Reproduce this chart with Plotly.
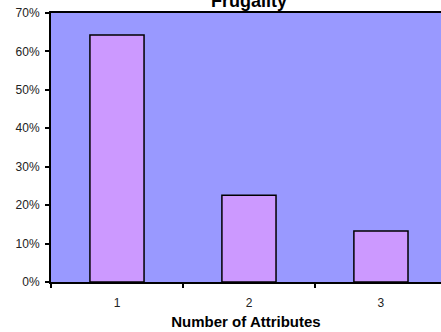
import plotly.graph_objects as go

# Share of items by number of attributes
categories = ["1", "2", "3"]
shares = [0.643, 0.226, 0.133]
y_ticks = [0, 0.1, 0.2, 0.3, 0.4, 0.5, 0.6, 0.7]
y_tick_text = ["0%", "10%", "20%", "30%", "40%", "50%", "60%", "70%"]

fig = go.Figure(
    go.Bar(
        x=categories,
        y=shares,
        width=0.41,
        marker=dict(color="#CC99FF", line=dict(color="black", width=1.5)),
    )
)

font = "Liberation Sans, Arial, sans-serif"

fig.update_layout(
    width=441,
    height=332,
    margin=dict(l=51, r=0, t=13, b=50),
    paper_bgcolor="white",
    plot_bgcolor="#9999FF",
    showlegend=False,
    font=dict(family=font, size=12, color="#222222"),
    xaxis=dict(
        type="category",
        range=[-0.5, 2.455],
        tickson="boundaries",
        ticks="outside",
        ticklen=4,
        tickwidth=2,
        tickcolor="black",
        showline=True,
        linecolor="black",
        linewidth=2,
        mirror=True,
        showgrid=False,
        tickfont=dict(size=12),
        ticklabelstandoff=9,
        title=dict(text="<b>Number of Attributes</b>", font=dict(size=15, color="black"), standoff=7),
    ),
    yaxis=dict(
        range=[0, 0.7],
        tickvals=y_ticks,
        ticktext=y_tick_text,
        ticks="outside",
        ticklen=4,
        tickwidth=2,
        tickcolor="black",
        showline=True,
        linecolor="black",
        linewidth=2,
        showgrid=False,
        zeroline=False,
        tickfont=dict(size=12),
        ticklabelstandoff=3,
    ),
    annotations=[
        dict(
            text="<b>Frugality</b>",
            xref="x",
            yref="paper",
            x=1,
            y=1,
            xanchor="center",
            yanchor="bottom",
            yshift=0,
            showarrow=False,
            font=dict(size=18, color="black"),
        )
    ],
)

fig.write_html("out.html")
